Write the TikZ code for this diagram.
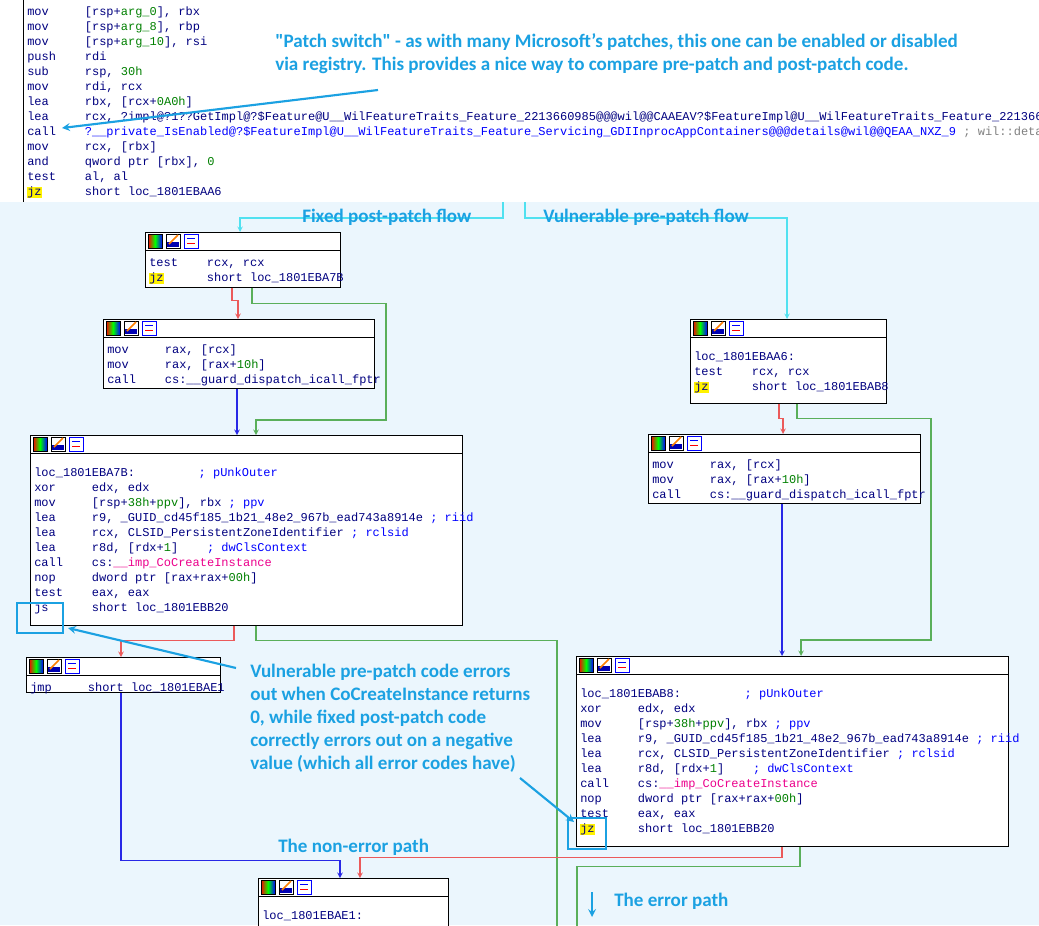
\documentclass[tikz,border=0pt]{standalone}
\usepackage{fontspec}
\setmainfont{Carlito}
\newfontfamily\codefont{Liberation Mono}
\usetikzlibrary{positioning, calc, arrows}
\definecolor{navycode}{RGB}{0,0,128}
\definecolor{numgreen}{RGB}{0,128,0}
\definecolor{cmtblue}{RGB}{0,0,255}
\definecolor{annblue}{RGB}{27,161,226}
\definecolor{flowcyan}{RGB}{80,225,240}
\definecolor{bgblue}{RGB}{235,246,253}
\definecolor{flowred}{RGB}{235,90,90}
\definecolor{flowgreen}{RGB}{90,175,90}
\definecolor{flowblue}{RGB}{40,40,230}
\setlength{\fboxsep}{0pt}
\newcommand{\I}[2]{\makebox[4.8em][l]{#1}#2\\}
\newcommand{\g}[1]{\textcolor{numgreen}{#1}}
\newcommand{\cm}[1]{\textcolor{cmtblue}{#1}}
\newcommand{\hl}[1]{\colorbox{yellow}{#1}}
% block: name, x1, y1, x2, y2, lines
\newcommand{\codeblk}[6]{
  \node[blockbox, minimum width={(#4-#2)*0.75pt}, minimum height={(#5-#3)*0.75pt}]
    (#1) at (#2,#3) {};
  \draw (#2,#3+18) -- (#4,#3+18);
  \shade[left color=red, right color=blue, middle color=green, draw=black] (#2+3,#3+2) rectangle ++(14,14);
  \draw[fill=white] (#2+21,#3+2) rectangle ++(14,14);
  \fill[blue!70!black] (#2+22,#3+10) rectangle ++(12,5);
  \draw[orange, line width=1.2pt] (#2+24,#3+12) -- (#2+33,#3+3);
  \draw[fill=white, draw=blue] (#2+39,#3+2) rectangle ++(14,14);
  \draw[red] (#2+42,#3+11) -- (#2+50,#3+11);
  \draw[blue] (#2+42,#3+6) -- (#2+50,#3+6);
  \node[codetext] (#1text) at (#2+4,#3+26) {#6};
}
\begin{document}
\begin{tikzpicture}[x=0.75pt, y=-0.75pt, >=stealth,
    blockbox/.style={draw, fill=white, anchor=north west, inner sep=0pt},
    codetext/.style={anchor=north west, inner sep=0pt, align=left, text=navycode,
      font=\codefont\fontsize{9}{11.25}\selectfont},
    ann/.style={text=annblue, font=\bfseries\fontsize{14.3}{17.25}\selectfont, align=left, inner sep=0pt},
    annarrow/.style={annblue, line width=1.6pt, ->},
    hlbox/.style={draw=annblue, line width=2pt},
    cyanflow/.style={flowcyan, line width=0.8pt, ->},
    redflow/.style={flowred, line width=0.8pt, ->},
    greenflow/.style={flowgreen, line width=0.8pt, ->},
    blueflow/.style={flowblue, line width=0.8pt, ->}]
  \clip (0,0) rectangle (1039,925);
  \fill[bgblue] (0,202) rectangle (1039,925);
  \fill[white] (0,0) rectangle (1039,202);
  \draw (23,0) -- (23,202);

  % function prologue
  \node[codetext] (top) at (27,7) {%
    \I{mov}{[rsp+\g{arg\_0}], rbx}
    \I{mov}{[rsp+\g{arg\_8}], rbp}
    \I{mov}{[rsp+\g{arg\_10}], rsi}
    \I{push}{rdi}
    \I{sub}{rsp, \g{30h}}
    \I{mov}{rdi, rcx}
    \I{lea}{rbx, [rcx+\g{0A0h}]}
    \I{lea}{rcx, ?impl@?1??GetImpl@?\$Feature@U\_\_WilFeatureTraits\_Feature\_2213660985@@@wil@@CAAEAV?\$FeatureImpl@U\_\_WilFeatureTraits\_Feature\_2213660985}
    \I{call}{\cm{?\_\_private\_IsEnabled@?\$FeatureImpl@U\_\_WilFeatureTraits\_Feature\_Servicing\_GDIInprocAppContainers@@@details@wil@@QEAA\_NXZ\_9} \textcolor{gray}{; wil::details:}}
    \I{mov}{rcx, [rbx]}
    \I{and}{qword ptr [rbx], \g{0}}
    \I{test}{al, al}
    \makebox[4.8em][l]{\hl{jz}}short loc\_1801EBAA6};

  % fixed post-patch side
  \codeblk{b1}{145}{232}{340}{287}{\I{test}{rcx, rcx}\makebox[4.8em][l]{\hl{jz}}short loc\_1801EBA7B}
  \codeblk{b2}{103}{319}{374}{388}{\I{mov}{rax, [rcx]}\I{mov}{rax, [rax+\g{10h}]}\makebox[4.8em][l]{call}cs:\_\_guard\_dispatch\_icall\_fptr}
  \codeblk{b3}{30}{435}{462}{625}{\mbox{}\\
    loc\_1801EBA7B:\hspace{5.3em}\cm{; pUnkOuter}\\
    \I{xor}{edx, edx}
    \I{mov}{[rsp+\g{38h}+\g{ppv}], rbx \cm{; ppv}}
    \I{lea}{r9, \_GUID\_cd45f185\_1b21\_48e2\_967b\_ead743a8914e \cm{; riid}}
    \I{lea}{rcx, CLSID\_PersistentZoneIdentifier \cm{; rclsid}}
    \I{lea}{r8d, [rdx+\g{1}]\hspace{2.4em}\cm{; dwClsContext}}
    \I{call}{cs:\textcolor{magenta}{\_\_imp\_CoCreateInstance}}
    \I{nop}{dword ptr [rax+rax+\g{00h}]}
    \I{test}{eax, eax}
    \makebox[4.8em][l]{js}short loc\_1801EBB20}
  \codeblk{b4}{26}{657}{220}{692}{\makebox[4.8em][l]{jmp}short loc\_1801EBAE1}
  \codeblk{b8}{258}{878}{448}{940}{\mbox{}\\loc\_1801EBAE1:}

  % vulnerable pre-patch side
  \codeblk{b5}{690}{319}{886}{403}{\mbox{}\\loc\_1801EBAA6:\\\I{test}{rcx, rcx}\makebox[4.8em][l]{\hl{jz}}short loc\_1801EBAB8}
  \codeblk{b6}{648}{434}{920}{503}{\I{mov}{rax, [rcx]}\I{mov}{rax, [rax+\g{10h}]}\makebox[4.8em][l]{call}cs:\_\_guard\_dispatch\_icall\_fptr}
  \codeblk{b7}{576}{656}{1008}{846}{\mbox{}\\
    loc\_1801EBAB8:\hspace{5.3em}\cm{; pUnkOuter}\\
    \I{xor}{edx, edx}
    \I{mov}{[rsp+\g{38h}+\g{ppv}], rbx \cm{; ppv}}
    \I{lea}{r9, \_GUID\_cd45f185\_1b21\_48e2\_967b\_ead743a8914e \cm{; riid}}
    \I{lea}{rcx, CLSID\_PersistentZoneIdentifier \cm{; rclsid}}
    \I{lea}{r8d, [rdx+\g{1}]\hspace{2.4em}\cm{; dwClsContext}}
    \I{call}{cs:\textcolor{magenta}{\_\_imp\_CoCreateInstance}}
    \I{nop}{dword ptr [rax+rax+\g{00h}]}
    \I{test}{eax, eax}
    \makebox[4.8em][l]{\hl{jz}}short loc\_1801EBB20}

  % flow edges
  \draw[cyanflow] (503,202) -- (503,218) -| ($(b1.north west)+(95,0)$);
  \draw[cyanflow] (525,202) -- (525,218) -| ($(b5.north west)+(97,0)$);
  \draw[redflow] ($(b1.south west)+(87,0)$) -- ++(0,13) -| ($(b2.north west)+(135,0)$);
  \draw[greenflow] ($(b1.south west)+(107,0)$) -- ++(0,16) -| (386,420) -| ($(b3.north west)+(226,0)$);
  \draw[blueflow] ($(b2.south west)+(134,0)$) -- ($(b3.north west)+(207,0)$);
  \draw[redflow] ($(b3.south west)+(204,0)$) -- ++(0,15) -| ($(b4.north west)+(95,0)$);
  \draw[greenflow, -] ($(b3.south west)+(226,0)$) -- ++(0,15) -| (557,930);
  \draw[blueflow] ($(b4.south west)+(95,0)$) -- ++(0,168) -| ($(b8.north west)+(82,0)$);
  \draw[redflow] ($(b5.south west)+(89,0)$) -- ++(0,15) -| ($(b6.north west)+(135,0)$);
  \draw[greenflow] ($(b5.south west)+(107,0)$) -- ++(0,15) -| (931,640) -| ($(b7.north west)+(225,0)$);
  \draw[blueflow] ($(b6.south west)+(134,0)$) -- ($(b7.north west)+(206,0)$);
  \draw[redflow] ($(b7.south west)+(206,0)$) -- ++(0,11) -| ($(b8.north west)+(102,0)$);
  \draw[greenflow, -] ($(b7.south west)+(224,0)$) -- ++(0,20) -| (577,930);

  % annotations
  \node[ann, anchor=north west] (patchnote) at (275,33) {\textquotedbl Patch switch\textquotedbl{} - as with many Microsoft's patches, this one can be enabled or disabled\\via registry. This provides a nice way to compare pre-patch and post-patch code.};
  \coordinate (patchtip) at (62,128);
  \draw[annarrow] (378,90) -- (patchtip);
  \node[ann, anchor=west] (fixedlbl) at (302,217) {Fixed post-patch flow};
  \node[ann, anchor=west] (vulnlbl) at (543,217) {Vulnerable pre-patch flow};
  \draw[hlbox] (17,603) rectangle (63,633);
  \node[ann, anchor=north west] (errnote) at (250,664) {Vulnerable pre-patch code errors\\out when CoCreateInstance returns\\0, while fixed post-patch code\\correctly errors out on a negative\\value (which all error codes have)};
  \draw[annarrow] (236,668) -- (68,628);
  \draw[hlbox] (568,818) rectangle (606,849);
  \draw[annarrow] (520,778) -- (574,822);
  \node[ann, anchor=west] (nonerrlbl) at (278,847) {The non-error path};
  \draw[annarrow] (592,892) -- (592,917);
  \node[ann, anchor=west] (errlbl) at (614,901) {The error path};
\end{tikzpicture}
\end{document}
